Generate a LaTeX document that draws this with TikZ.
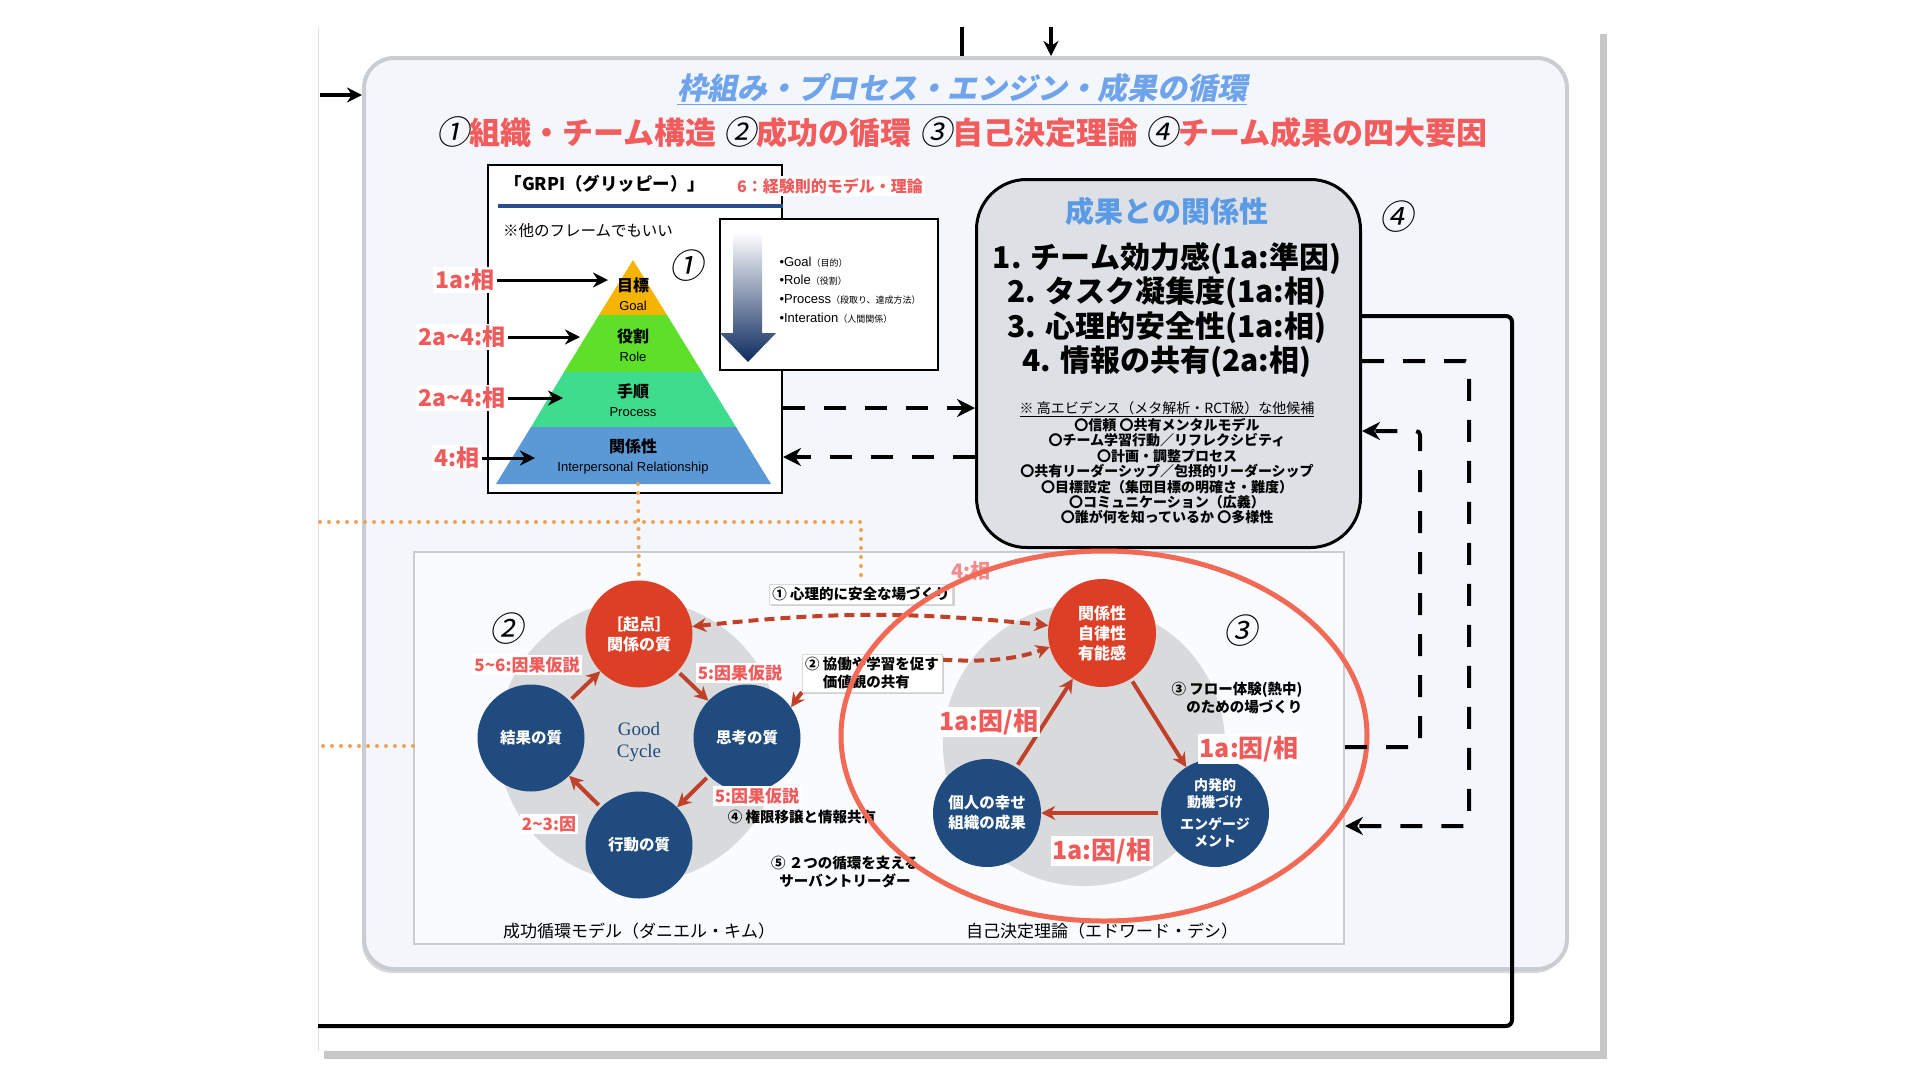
\documentclass[tikz,border=0pt]{standalone}
\usepackage{fontspec}
\setmainfont{Noto Sans CJK JP}
\newfontfamily\jpit[FakeSlant=0.2]{Noto Sans CJK JP}
\newfontfamily\enfont{Liberation Sans}
\newfontfamily\serfont{Liberation Serif}
\usetikzlibrary{arrows.meta,shadows}

\definecolor{bgblue}{HTML}{F3F7FC}
\definecolor{frameGray}{HTML}{C9CDD2}
\definecolor{titleBlue}{HTML}{6FA3EC}
\definecolor{headRed}{HTML}{F25C5C}
\definecolor{labelRed}{HTML}{EF5B5B}
\definecolor{cycNavy}{HTML}{1F4B7E}
\definecolor{cycRed}{HTML}{DC3F26}
\definecolor{arrRed}{HTML}{C1402A}
\definecolor{dotOrange}{HTML}{F2A052}
\definecolor{goalYellow}{HTML}{F5B400}
\definecolor{roleGreen}{HTML}{5EE02B}
\definecolor{procGreen}{HTML}{3EDC8C}
\definecolor{relBlue}{HTML}{5A98D6}
\definecolor{boxGray}{HTML}{DDE0E4}
\definecolor{cycGray}{HTML}{D9DADC}
\definecolor{ellRed}{HTML}{F26A55}
\definecolor{lineNavy}{HTML}{2B4C8C}
\definecolor{arrowNavy}{HTML}{0D2A5E}
\definecolor{subBlue}{HTML}{5B9BE6}

\newcommand{\fsz}[2]{\fontsize{#1}{#2}\selectfont}
\newcommand{\cnum}[1]{{\jpit\mdseries\color{black}\fsz{33}{33}#1}}
\newcommand{\jps}[1]{{\rmfamily\fsz{9}{9}#1}}

\begin{document}
\begin{tikzpicture}[x=1pt,y=1pt,
    PanelBox/.style={draw=frameGray,line width=4,fill=bgblue,rounded corners=30,anchor=north west},
    SheetBox/.style={draw,line width=2,fill=white,anchor=north west,inner sep=0},
    LeftLabel/.style={fill=white,text=labelRed,inner sep=2,font=\bfseries\fsz{23}{23}},
    CycLabel/.style={fill=white,text=labelRed,inner sep=2,font=\bfseries\fsz{17}{17}},
    SdtLabel/.style={fill=white,text=labelRed,inner sep=2,font=\bfseries\fsz{25}{25}},
    RedNode/.style={circle,fill=cycRed,text=white,minimum size=107,inner sep=0,align=center,font=\bfseries\fsz{16}{20}},
    BlueNode/.style={circle,fill=cycNavy,text=white,minimum size=107,inner sep=0,align=center,font=\bfseries\fsz{15.5}{20}},
    NoteBox/.style={fill=white,draw=black!15,inner sep=3,align=left,font=\bfseries\fsz{14.5}{18},
      drop shadow={opacity=0.35,shadow xshift=2pt,shadow yshift=-2pt}},
    NoteText/.style={align=center,font=\bfseries\fsz{14.5}{18}},
    BlackArrow/.style={line width=3,-{Stealth[length=15pt,width=15pt]}},
    CycArrow/.style={draw=arrRed,line width=4,shorten <=3pt,-{Stealth[length=14pt,width=14pt]}},
    DashRed/.style={draw=arrRed,line width=4,dash pattern=on 10pt off 6pt,
      {Stealth[length=14pt,width=14pt]}-{Stealth[length=14pt,width=14pt]}},
    DashLine/.style={line width=4,dash pattern=on 22pt off 19pt,-{Stealth[length=18pt,width=18pt]}},
    DotLine/.style={draw=dotOrange,line width=4,line cap=round,dash pattern=on 0pt off 9pt},
    PyrText/.style={align=center,font=\bfseries\fsz{16}{19}},
    NumMark/.style={font=\jpit\fsz{34}{34}}
  ]
  \useasboundingbox (0,0) rectangle (1920,-1080);
  \fill[white] (0,0) rectangle (1920,-1080);

  % 背景の紙
  \fill[black!22] (324,-34) rectangle (1607,-1059);
  \fill[white] (318,-27) rectangle (1600,-1051);
  \draw[black!12,line width=1] (318,-27) -- (318,-1051);

  % 外枠パネル
  \fill[black!15,rounded corners=30] (362,-62) rectangle (1565,-973);
  \node[PanelBox,minimum width=1203,minimum height=911] (panel) at (362,-56) {};

  % 上と左から入る線
  \coordinate (topIn) at (962,-27);
  \coordinate (topOut) at (1051,-27);
  \coordinate (leftIn) at (320,-95);
  \draw[line width=4] (topIn) -- (topIn |- panel.north);
  \draw[BlackArrow,line width=4] (topOut) -- (topOut |- panel.north);
  \draw[BlackArrow,line width=4] (leftIn) -- (leftIn -| panel.west);

  % タイトル
  \node[font=\jpit\bfseries\fsz{30}{30},text=titleBlue] (title) at (962,-89)
    {\underline{枠組み・プロセス・エンジン・成果の循環}};
  \node[font=\bfseries\fsz{31}{31},text=headRed] (subtitle) at (962,-132)
    {\cnum{①}組織・チーム構造 \cnum{②}成功の循環 \cnum{③}自己決定理論 \cnum{④}チーム成果の四大要因};

  % GRPI
  \node[SheetBox,minimum width=294,minimum height=328] (grpi) at (487,-164) {};
  \node[font=\bfseries\fsz{17.5}{17.5}] (grpiTitle) at (605,-184) {「GRPI（グリッピー）」};
  \draw[lineNavy,line width=4] (498,-206) -- (grpi.east |- 0,-206);
  \node[fill=white,text=labelRed,font=\bfseries\fsz{16}{16},inner sep=2] (grpiNote) at (830,-186) {6：経験則的モデル・理論};
  \node[font=\fsz{15.5}{15.5}] (anyFrame) at (588,-231) {※他のフレームでもいい};
  \node[NumMark] (num1) at (686,-266) {①};

  % ピラミッド
  \fill[goalYellow] (633,-260) -- (667,-315) -- (599,-315) -- cycle;
  \fill[roleGreen] (599,-315) -- (667,-315) -- (702,-372) -- (564,-372) -- cycle;
  \fill[procGreen] (564,-372) -- (702,-372) -- (736,-427) -- (531,-427) -- cycle;
  \fill[relBlue] (531,-427) -- (736,-427) -- (771,-484) -- (496,-484) -- cycle;
  \foreach \i/\y/\jp/\en in {1/-294/目標/Goal,2/-345/役割/Role,3/-400/手順/Process,4/-456/関係性/Interpersonal Relationship}
    \node[PyrText] (pyr\i) at (633,\y) {\jp\\{\enfont\mdseries\fsz{13}{13}\en}};

  % 左のラベルと矢印
  \foreach \i/\lx/\y/\t/\tx in {1/465/-280/1a:相/608,2/462/-337/2a\textasciitilde4:相/580,
      3/462/-398/2a\textasciitilde4:相/563,4/457/-458/4:相/535}
  {
    \node[LeftLabel] (lab\i) at (\lx,\y) {\t};
    \coordinate (tip\i) at (\tx,\y);
    \draw[BlackArrow] (lab\i) -- (tip\i);
  }

  % GRPIの説明ボックス
  \node[SheetBox,line width=1.5,minimum width=218,minimum height=151] (gbox) at (719,-218) {};
  \shade[top color=white,middle color=relBlue!70,bottom color=arrowNavy]
    (733,-232) -- (762,-232) -- (762,-333) -- (776,-333) -- (748,-362) -- (720,-333) -- (733,-333) -- cycle;
  \node[anchor=west,align=left,font=\enfont\fsz{13}{18.7}] (glist) at (776,-290)
    {•Goal\jps{（目的）}\\•Role\jps{（役割）}\\•Process\jps{（段取り、達成方法）}\\•Interation\jps{（人間関係）}};

  % 成果との関係性
  \node[draw,line width=3,fill=boxGray,rounded corners=50,minimum width=384,minimum height=368,anchor=north west] (box4) at (975,-178) {};
  \node[text=subBlue,font=\bfseries\fsz{29}{29}] (b4Title) at (1167,-211) {成果との関係性};
  \node[align=center,font=\bfseries\fsz{30}{34.3}] (b4Items) at (1167,-310)
    {1. チーム効力感(1a:準因)\\2. タスク凝集度(1a:相)\\3. 心理的安全性(1a:相)\\4. 情報の共有(2a:相)};
  \node[align=center,font=\bfseries\fsz{14}{15.4}] (b4Notes) at (1167,-463)
    {{\mdseries\underline{※ 高エビデンス（メタ解析・RCT級）な他候補}}\\
     〇信頼\ 〇共有メンタルモデル\\
     〇チーム学習行動／リフレクシビティ\\
     〇計画・調整プロセス\\
     〇共有リーダーシップ／包摂的リーダーシップ\\
     〇目標設定（集団目標の明確さ・難度）\\
     〇コミュニケーション（広義）\\
     〇誰が何を知っているか 〇多様性};
  \node[NumMark] (num4) at (1396,-217) {④};

  % GRPIと成果の間の破線矢印
  \draw[DashLine] (grpi.east |- 0,-408) -- (box4.west |- 0,-408);
  \draw[DashLine] (box4.west |- 0,-457) -- (grpi.east |- 0,-457);

  % 下の枠
  \node[draw=frameGray,line width=2,fill=bgblue!50!white,minimum width=930,minimum height=392,anchor=north west] (frame) at (413,-551) {};

  % 成功循環モデル
  \fill[cycGray] (639,-741) circle[radius=141];
  \node[RedNode] (rel) at (639,-634) {［起点］\\関係の質};
  \node[BlueNode] (thk) at (747,-738) {思考の質};
  \node[BlueNode] (act) at (639,-845) {行動の質};
  \node[BlueNode] (res) at (531,-738) {結果の質};
  \node[font=\serfont\fsz{19}{22},text=cycNavy,align=center] (good) at (639,-742) {Good\\Cycle};
  \foreach \a/\b in {rel/thk,thk/act,act/res,res/rel}
    \draw[CycArrow] (\a) -- (\b);
  \node[CycLabel] (c1) at (527,-665) {5\textasciitilde6:因果仮説};
  \node[CycLabel] (c2) at (740,-673) {5:因果仮説};
  \node[CycLabel] (c3) at (757,-796) {5:因果仮説};
  \node[CycLabel] (c4) at (549,-824) {2\textasciitilde3:因};
  \node[NumMark] (num2) at (506,-629) {②};

  % 自己決定理論
  \fill[cycGray] (1084,-745) circle[radius=141];
  \node[RedNode,minimum size=108] (sdtRel) at (1102,-633) {関係性\\自律性\\有能感};
  \node[BlueNode,minimum size=108] (happy) at (987,-813) {個人の幸せ\\組織の成果};
  \node[BlueNode,minimum size=108,font=\bfseries\fsz{14}{17}] (motiv) at (1215,-813) {内発的\\動機づけ\\[5pt]エンゲージ\\メント};
  \foreach \a/\b in {sdtRel/motiv,motiv/happy,happy/sdtRel}
    \draw[CycArrow] (\a) -- (\b);
  \node[SdtLabel] (s1) at (989,-722) {1a:因/相};
  \node[SdtLabel] (s2) at (1249,-749) {1a:因/相};
  \node[SdtLabel] (s3) at (1102,-851) {1a:因/相};
  \node[NumMark] (num3) at (1240,-631) {③};
  \node[NoteText,align=right] (flow) at (1237,-698) {③ フロー体験(熱中)\\のための場づくり};

  % 2つの循環をつなぐ破線
  \draw[DashRed] (rel.8) to[bend left=6] (sdtRel.172);
  \draw[DashRed] (thk.35) to[out=55,in=200] (sdtRel.195);

  % 補足ラベル
  \node[NoteBox] (note1) at (861,-594) {① 心理的に安全な場づくり};
  \node[NoteBox] (note2) at (872,-673) {② 協働や学習を促す\\\hphantom{②} 価値観の共有};
  \node[NoteText] (note4) at (802,-817) {④ 権限移譲と情報共有};
  \node[NoteText] (note5) at (845,-872) {⑤ ２つの循環を支える\\サーバントリーダー};
  \node[text=labelRed!70,font=\bfseries\fsz{20}{20}] (rel4) at (971,-571) {4:相};
  \node[font=\fsz{17}{17}] (capL) at (639,-931) {成功循環モデル（ダニエル・キム）};
  \node[font=\fsz{17}{17}] (capR) at (1102,-931) {自己決定理論（エドワード・デシ）};

  % 赤い楕円
  \draw[ellRed,line width=5] (1104,-736) ellipse[x radius=263,y radius=185];

  % オレンジの点線
  \coordinate (pyrBase) at (638,-484);
  \coordinate (dotA) at (320,-522);
  \coordinate (dotB) at (323,-746);
  \draw[DotLine] (pyrBase) -- (rel.north);
  \draw[DotLine] (dotA) -| (note1.north);
  \draw[DotLine] (dotB) -- (dotB -| frame.west);

  % 右側の線
  \coordinate (loopEnd) at (318,-1026);
  \draw[line width=4,rounded corners=6] (box4.east |- 0,-316) -- (1512,-316) -- (1512,-1026) -- (loopEnd);
  \draw[DashLine,rounded corners=4] (box4.east |- 0,-361) -- (1469,-361) -- (1469,-826) -- (frame.east |- 0,-826);
  \draw[DashLine,rounded corners=4] (frame.east |- 0,-747) -- (1420,-747) -- (1420,-431) -- (box4.east |- 0,-431);
\end{tikzpicture}
\end{document}
